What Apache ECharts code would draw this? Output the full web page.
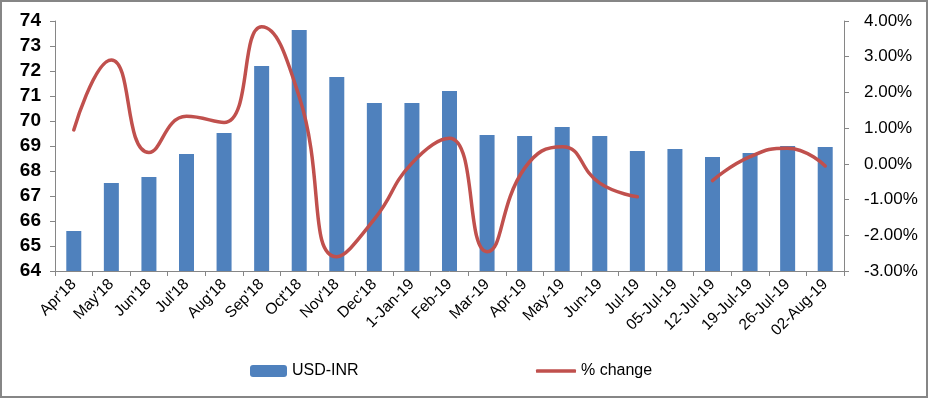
<!DOCTYPE html>
<html>
<head>
<meta charset="utf-8">
<script src="https://cdn.jsdelivr.net/npm/echarts@6/dist/echarts.min.js"></script>
<style>
html,body{margin:0;padding:0;background:#fff;}
#c{width:929px;height:399px;}
</style>
</head>
<body>
<div id="c"></div>
<script>
var categories = ["Apr'18","May'18","Jun'18","Jul'18","Aug'18","Sep'18","Oct'18","Nov'18","Dec'18","1-Jan-19","Feb-19","Mar-19","Apr-19","May-19","Jun-19","Jul-19","05-Jul-19","12-Jul-19","19-Jul-19","26-Jul-19","02-Aug-19"];
var usdInr = [65.6, 67.52, 67.76, 68.68, 69.52, 72.2, 73.64, 71.76, 70.72, 70.72, 71.2, 69.44, 69.4, 69.76, 69.4, 68.8, 68.88, 68.56, 68.72, 69.0, 68.96];
var pctChange = [0.95, 2.91, 0.32, 1.33, 1.16, 3.84, 1.88, -2.6, -1.55, 0.02, 0.72, -2.46, -0.12, 0.48, -0.54, -0.92, null, -0.47, 0.2, 0.44, -0.06];
var leftTicks = {min: 64, max: 74, interval: 1};
var rightTicks = {min: -3, max: 4, interval: 1};

var chart = echarts.init(document.getElementById('c'), null, {renderer: 'canvas'});
var axisGray = '#868686';
chart.setOption({
  animation: false,
  backgroundColor: '#ffffff',
  graphic: [{
    type: 'rect', z: 100,
    shape: {x: 1, y: 1, width: 926, height: 396},
    style: {fill: 'none', stroke: axisGray, lineWidth: 2}
  }],
  grid: {left: 55, right: 85, top: 21, bottom: 128, containLabel: false},
  legend: [{
    data: ['USD-INR'], left: 245, top: 358,
    itemWidth: 37, itemHeight: 12, itemGap: 5,
    textStyle: {fontFamily: 'Liberation Sans', fontSize: 16, color: '#000'}
  }, {
    data: [{name: '% change', icon: 'roundRect'}], left: 531, top: 358,
    itemWidth: 40, itemHeight: 3.5, itemGap: 5,
    textStyle: {fontFamily: 'Liberation Sans', fontSize: 16, color: '#000'}
  }],
  xAxis: {
    type: 'category', data: categories,
    axisLine: {onZero: false, lineStyle: {color: axisGray, width: 1}},
    axisTick: {show: true, length: 5, lineStyle: {color: axisGray}},
    axisLabel: {rotate: 45, interval: 0, margin: 11, fontFamily: 'Liberation Sans', fontSize: 15.5, color: '#000'}
  },
  yAxis: [{
    type: 'value', min: leftTicks.min, max: leftTicks.max, interval: leftTicks.interval,
    splitLine: {show: false},
    axisLine: {show: true, lineStyle: {color: axisGray}},
    axisTick: {show: true, length: 5, lineStyle: {color: axisGray}},
    axisLabel: {margin: 14, fontFamily: 'Liberation Sans', fontWeight: 'bold', fontSize: 19, color: '#000'}
  }, {
    type: 'value', min: rightTicks.min, max: rightTicks.max, interval: rightTicks.interval,
    position: 'right',
    splitLine: {show: false},
    axisLine: {show: true, lineStyle: {color: axisGray}},
    axisTick: {show: true, length: 5, lineStyle: {color: axisGray}},
    axisLabel: {margin: 20, fontFamily: 'Liberation Sans', fontSize: 17, color: '#000',
      formatter: function (v) { return v.toFixed(2) + '%'; }}
  }],
  series: [{
    name: 'USD-INR', type: 'bar', yAxisIndex: 0,
    data: usdInr, barWidth: 15,
    itemStyle: {color: '#4F81BD'}
  }, {
    name: '% change', type: 'line', yAxisIndex: 1,
    data: pctChange, smooth: 0.5, symbol: 'none', connectNulls: false,
    lineStyle: {color: '#C0504D', width: 3.5, cap: 'round'},
    itemStyle: {color: '#C0504D'}
  }]
});
</script>
</body>
</html>
